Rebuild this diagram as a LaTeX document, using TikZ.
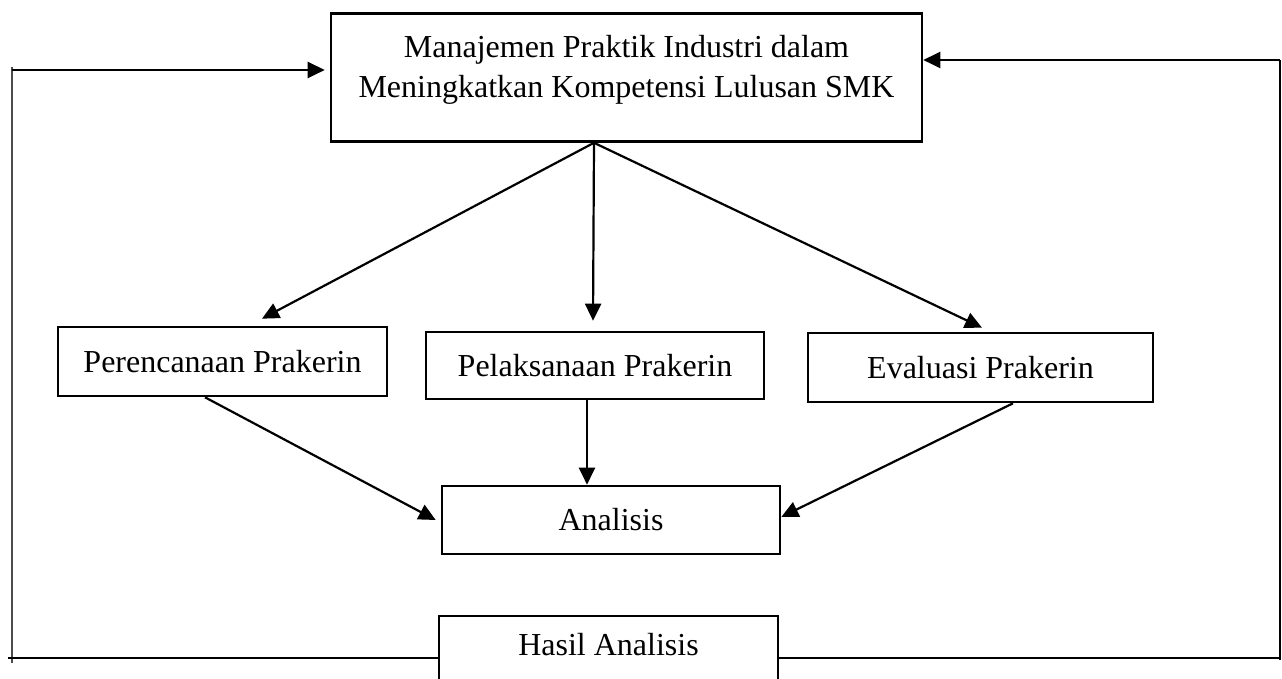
\documentclass[tikz,border=0pt]{standalone}
\usepackage{fontspec}
\setmainfont{Liberation Serif}
\usetikzlibrary{arrows.meta}
\tikzset{
  boxnode/.style={draw=black, line width=2.6pt, fill=white, inner sep=0pt, font=\fontsize{32}{40}\selectfont},
  arr/.style={line width=2.2pt, -{Triangle[length=17pt,width=16pt]}},
  fb/.style={line width=2.6pt},
  fbthin/.style={line width=1.6pt, draw=black!70},
}
\begin{document}
\begin{tikzpicture}[x=1pt,y=1pt]
\useasboundingbox[fill=white] (0,0) rectangle (1282,679);
\begin{scope}
\clip (0,0) rectangle (1282,679);
% boxes
\node[boxnode, minimum width=591pt, minimum height=128pt] (top) at (626.5,601.5) {};
\node[align=center, font=\fontsize{32}{40}\selectfont, inner sep=0pt] (toptext) at (626.5,609)
  {Manajemen Praktik Industri dalam\\Meningkatkan Kompetensi Lulusan SMK};
\node[boxnode, minimum width=329pt, minimum height=69pt] (plan) at (222.5,317.5) {Perencanaan Prakerin};
\node[boxnode, minimum width=338pt, minimum height=67pt] (pel) at (595,313.5) {Pelaksanaan Prakerin};
\node[boxnode, minimum width=345pt, minimum height=69pt] (eval) at (980.5,311.5) {Evaluasi Prakerin};
\node[boxnode, minimum width=338pt, minimum height=68pt] (anal) at (611,159) {Analisis};
\node[boxnode, minimum width=339pt, minimum height=68pt] (hasil) at (608.5,29) {};
\node[font=\fontsize{32}{40}\selectfont, inner sep=0pt] (hasiltext) at (608.5,34) {Hasil Analisis};
% arrows from top
\coordinate (apex) at ([xshift=-32.5pt]top.south);
\draw[arr] (apex) -- ([xshift=39.5pt,yshift=7pt]plan.north);
\draw[arr] (apex) -- ([xshift=-2pt,yshift=10pt]pel.north);
\draw[arr] (apex) -- ([xshift=1.5pt,yshift=4pt]eval.north);
% arrows to analisis
\draw[arr] ([xshift=-17.5pt]plan.south) -- ([xshift=-5pt]anal.west);
\draw[arr] ([xshift=-8pt]pel.south) -- ([xshift=-24pt]anal.north);
\draw[arr] ([xshift=32.5pt]eval.south) -- ([yshift=3pt]anal.east);
% feedback left
\coordinate (lt) at (12,612);
\coordinate (lb) at (12,16);
\coordinate (lh) at (12,609);
\draw[fbthin] (lt) -- (lb);
\draw[arr] (lh) -- ([xshift=-5pt,yshift=7.5pt]top.west);
\coordinate (bl) at (8,21);
\draw[fb] (bl) -- ([yshift=-8pt]hasil.west);
% feedback right
\coordinate (rt) at (1280,619);
\coordinate (rb) at (1280,19);
\coordinate (br) at (1281,21);
\draw[line width=1.8pt] (rt) -- (rb);
\draw[arr] (rt) -- ([yshift=17.5pt]top.east);
\draw[fb] ([yshift=-8pt]hasil.east) -- (br);
\end{scope}
\end{tikzpicture}
\end{document}
